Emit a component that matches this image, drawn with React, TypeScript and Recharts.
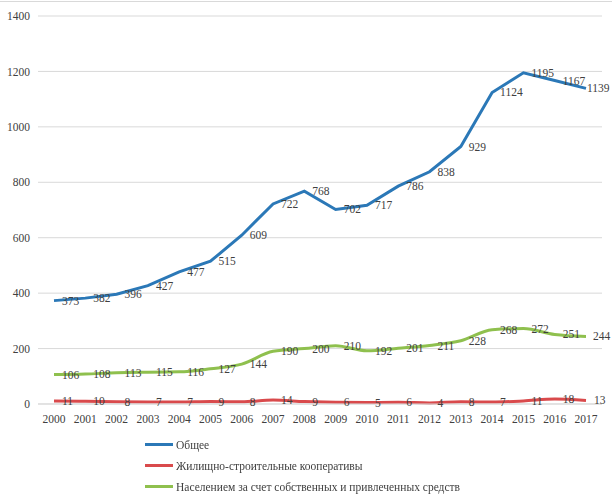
import { LineChart, Line, XAxis, YAxis, CartesianGrid, LabelList } from 'recharts'

const years = ['2000', '2001', '2002', '2003', '2004', '2005', '2006', '2007', '2008', '2009', '2010', '2011', '2012', '2013', '2014', '2015', '2016', '2017']
const total = [373, 382, 396, 427, 477, 515, 609, 722, 768, 702, 717, 786, 838, 929, 1124, 1195, 1167, 1139]
const coops = [11, 10, 8, 7, 7, 9, 8, 14, 9, 6, 5, 6, 4, 8, 7, 11, 18, 13]
const population = [106, 108, 113, 115, 116, 127, 144, 190, 200, 210, 192, 201, 211, 228, 268, 272, 251, 244]
const yTicks = [0, 200, 400, 600, 800, 1000, 1200, 1400]

const series = [
  { key: 'total', name: 'Общее', color: '#2b78b7', type: 'linear' },
  { key: 'coops', name: 'Жилищно-строительные кооперативы', color: '#d94a4c', type: 'monotone' },
  { key: 'population', name: 'Населением за счет собственных и привлеченных средств', color: '#8fc04e', type: 'monotone' }
]

const chartData = years.map((year, i) => ({
  year,
  total: total[i],
  coops: coops[i],
  population: population[i]
}))

const font = 'Liberation Serif, DejaVu Serif Condensed, DejaVu Serif, serif'
const textColor = '#404040'
const textStyle = { fill: textColor, fontSize: 11.5, fontFamily: font }

// value label to the right of the point, pulled back inside the edge if needed
const renderValue = (props: any) => {
  const { x, y, value } = props
  const w = String(value).length * 6
  let lx = x + 8
  if (lx + w > 611) lx = 611 - w
  return (
    <text x={lx} y={y} dy={4} textAnchor="start" {...textStyle}>
      {value}
    </text>
  )
}

export default function App() {
  return (
    <div style={{ position: 'fixed', left: 0, top: 0, width: 612, height: 496, background: '#fff', fontFamily: font }}>
      <div style={{ position: 'absolute', left: 0, top: 1, width: 612, height: 1, background: '#d9d9d9' }} />
      <LineChart width={612} height={434} data={chartData} margin={{ top: 16, right: 10, bottom: 0, left: 0 }}>
        <CartesianGrid vertical={false} stroke="#d9d9d9" />
        <XAxis
          dataKey="year"
          axisLine={{ stroke: '#d9d9d9' }}
          tickLine={false}
          interval={0}
          height={30}
          tickMargin={5}
          padding={{ left: 16, right: 16 }}
          tick={textStyle}
        />
        <YAxis
          domain={[0, 1400]}
          ticks={yTicks}
          axisLine={false}
          tickLine={false}
          width={38}
          tick={textStyle}
        />
        {series.map((s) => (
          <Line
            key={s.key}
            dataKey={s.key}
            name={s.name}
            type={s.type as any}
            stroke={s.color}
            strokeWidth={3}
            dot={false}
            isAnimationActive={false}
          >
            <LabelList dataKey={s.key} content={renderValue} />
          </Line>
        ))}
      </LineChart>
      <div style={{ position: 'absolute', left: 145, top: 434 }}>
        {series.map((s) => (
          <div key={s.key} style={{ display: 'flex', alignItems: 'center', height: 21, fontSize: 11.5, color: textColor }}>
            <span style={{ display: 'inline-block', width: 28, height: 3, background: s.color, marginRight: 3 }} />
            <span>{s.name}</span>
          </div>
        ))}
      </div>
    </div>
  )
}
